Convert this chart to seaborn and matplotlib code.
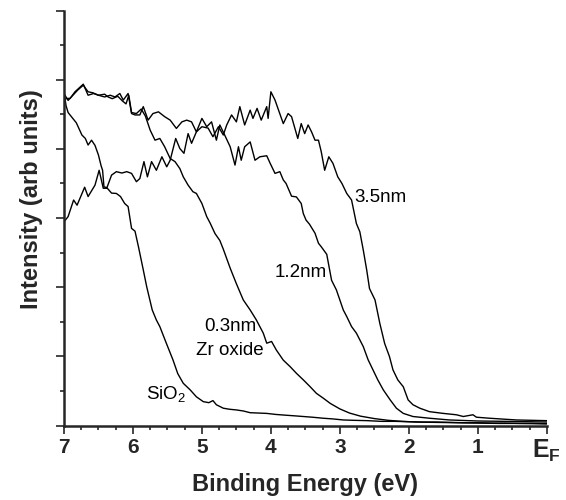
import matplotlib
matplotlib.use("Agg")
import matplotlib.pyplot as plt
import seaborn as sns
import pandas as pd
from matplotlib.ticker import MultipleLocator

# ---- data ----
sio2_x = [7.00, 6.97, 6.94, 6.88, 6.82, 6.74, 6.69, 6.65, 6.60, 6.55, 6.50, 6.46, 6.44, 6.42, 6.38,
          6.31, 6.24, 6.18, 6.12, 6.07, 6.02, 5.97, 5.92, 5.85, 5.80, 5.72, 5.66, 5.61, 5.52, 5.42,
          5.35, 5.27, 5.17, 5.08, 4.98, 4.90, 4.84, 4.79, 4.69, 4.60, 4.50, 4.40, 4.30, 4.18, 4.06,
          3.93, 3.80, 3.66, 3.53, 3.40, 3.24, 3.10, 2.95, 2.80, 2.60, 2.40, 2.20, 2.00, 1.80, 1.60,
          1.40, 1.20, 1.00, 0.80, 0.60, 0.40, 0.20, 0.00]
sio2_y = [9.65, 9.25, 9.05, 8.90, 8.75, 8.40, 8.30, 8.11, 8.25, 8.10, 7.82, 7.50, 7.38, 6.90, 6.88,
          6.72, 6.71, 6.62, 6.42, 6.33, 5.70, 5.62, 5.17, 4.50, 4.01, 3.34, 3.05, 2.86, 2.40, 1.90,
          1.50, 1.22, 1.03, 0.83, 0.69, 0.66, 0.72, 0.60, 0.50, 0.47, 0.45, 0.42, 0.37, 0.36, 0.35,
          0.32, 0.30, 0.28, 0.26, 0.24, 0.21, 0.19, 0.16, 0.15, 0.14, 0.12, 0.12, 0.11, 0.10, 0.10,
          0.09, 0.08, 0.08, 0.07, 0.07, 0.06, 0.06, 0.05]

zr03_x = [7.00, 6.94, 6.87, 6.80, 6.72, 6.65, 6.58, 6.50, 6.41, 6.36, 6.30, 6.22, 6.15, 6.10, 6.06,
          6.02, 5.95, 5.88, 5.82, 5.75, 5.68, 5.61, 5.54, 5.46, 5.39, 5.32, 5.27, 5.20, 5.13, 5.08,
          5.00, 4.93, 4.88, 4.81, 4.74, 4.69, 4.59, 4.50, 4.40, 4.30, 4.21, 4.11, 4.06, 3.99, 3.92,
          3.82, 3.72, 3.63, 3.53, 3.43, 3.34, 3.24, 3.14, 3.00, 2.86, 2.70, 2.50, 2.30, 2.10, 1.90,
          1.60, 1.30, 1.00, 0.70, 0.40, 0.00]
zr03_y = [9.60, 9.40, 9.55, 9.70, 9.84, 9.65, 9.62, 9.55, 9.58, 9.50, 9.45, 9.52, 9.38, 9.30, 9.55,
          9.05, 9.02, 9.15, 8.95, 8.54, 8.25, 8.30, 8.06, 7.72, 7.63, 7.43, 7.19, 6.95, 6.76, 6.71,
          6.42, 6.04, 5.85, 5.55, 5.35, 5.10, 4.55, 4.10, 3.63, 3.34, 3.05, 2.67, 2.38, 2.43, 2.18,
          1.89, 1.70, 1.51, 1.32, 1.12, 0.93, 0.79, 0.64, 0.48, 0.36, 0.27, 0.20, 0.15, 0.12, 0.10,
          0.09, 0.08, 0.07, 0.06, 0.06, 0.05]

zr12_x = [7.00, 6.91, 6.84, 6.72, 6.65, 6.57, 6.50, 6.41, 6.33, 6.26, 6.19, 6.14, 6.07, 6.02, 5.97,
          5.90, 5.85, 5.78, 5.71, 5.63, 5.54, 5.46, 5.37, 5.29, 5.22, 5.15, 5.08, 5.00, 4.93, 4.86,
          4.79, 4.74, 4.67, 4.59, 4.52, 4.47, 4.43, 4.38, 4.30, 4.23, 4.16, 4.06, 4.01, 3.94, 3.87,
          3.82, 3.78, 3.70, 3.63, 3.56, 3.53, 3.49, 3.44, 3.36, 3.31, 3.27, 3.19, 3.12, 3.05, 3.00,
          2.95, 2.90, 2.83, 2.76, 2.66, 2.59, 2.52, 2.45, 2.37, 2.27, 2.18, 2.08, 1.94, 1.70, 1.41,
          1.00, 0.60, 0.30, 0.00]
zr12_y = [9.45, 9.46, 9.65, 9.87, 9.55, 9.60, 9.55, 9.50, 9.55, 9.50, 9.60, 9.41, 9.60, 9.02, 8.98,
          8.98, 9.22, 8.83, 9.02, 9.07, 8.93, 8.83, 8.59, 8.78, 8.83, 8.78, 8.49, 8.88, 8.64, 8.78,
          8.25, 8.69, 8.40, 8.06, 7.53, 8.06, 7.67, 8.06, 8.20, 7.67, 7.77, 7.80, 7.58, 7.29, 7.34,
          7.10, 7.00, 6.63, 6.61, 6.42, 6.13, 5.94, 5.82, 5.56, 5.27, 5.17, 4.95, 4.20, 3.92, 3.63,
          3.34, 3.15, 2.86, 2.67, 2.28, 1.90, 1.61, 1.32, 1.03, 0.74, 0.50, 0.35, 0.26, 0.21, 0.16,
          0.13, 0.12, 0.11, 0.10]

zr35_x = [7.00, 6.94, 6.86, 6.81, 6.70, 6.65, 6.55, 6.49, 6.43, 6.38, 6.31, 6.24, 6.16, 6.09, 6.02,
          5.95, 5.90, 5.84, 5.79, 5.73, 5.66, 5.58, 5.51, 5.46, 5.38, 5.32, 5.26, 5.20, 5.15, 5.08,
          5.00, 4.91, 4.84, 4.76, 4.69, 4.64, 4.57, 4.50, 4.45, 4.38, 4.30, 4.26, 4.20, 4.14, 4.06,
          4.04, 4.00, 3.94, 3.82, 3.75, 3.70, 3.61, 3.56, 3.51, 3.46, 3.41, 3.36, 3.31, 3.27, 3.22,
          3.16, 3.10, 3.03, 2.97, 2.90, 2.83, 2.76, 2.71, 2.66, 2.61, 2.57, 2.49, 2.42, 2.35, 2.28,
          2.23, 2.16, 2.08, 2.01, 1.94, 1.84, 1.70, 1.50, 1.31, 1.21, 1.07, 1.02, 0.83, 0.44, 0.00]
zr35_y = [5.89, 6.04, 6.52, 6.37, 6.89, 6.62, 6.95, 7.38, 6.86, 6.86, 7.24, 7.34, 7.30, 7.34, 7.29,
          7.05, 7.14, 7.63, 7.19, 7.63, 7.38, 7.77, 7.48, 7.67, 8.30, 8.01, 7.87, 8.44, 8.16, 8.49,
          8.64, 8.60, 8.35, 8.64, 8.40, 8.69, 8.98, 8.78, 9.22, 8.69, 9.12, 8.88, 9.17, 8.83, 9.22,
          8.88, 9.65, 9.41, 8.73, 9.02, 8.93, 8.30, 8.73, 8.44, 8.69, 8.49, 8.25, 8.25, 7.92, 7.38,
          7.77, 7.58, 7.19, 7.00, 6.71, 6.52, 5.84, 5.60, 5.07, 4.49, 3.96, 3.63, 2.95, 2.37, 1.99,
          1.61, 1.32, 1.12, 0.74, 0.60, 0.50, 0.40, 0.35, 0.31, 0.26, 0.31, 0.24, 0.21, 0.16, 0.14]

x_ticks = [7, 6, 5, 4, 3, 2, 1, 0]
x_tick_labels = ["7", "6", "5", "4", "3", "2", "1", r"$\mathbf{E_F}$"]

curves = {"SiO2": (sio2_x, sio2_y), "0.3nm": (zr03_x, zr03_y),
          "1.2nm": (zr12_x, zr12_y), "3.5nm": (zr35_x, zr35_y)}
frames = []
for name, (xs, ys) in curves.items():
    frames.append(pd.DataFrame({"energy": xs, "intensity": ys, "film": name}))
df = pd.concat(frames, ignore_index=True)

# ---- style ----
sns.set_style("ticks")
plt.rcParams["font.family"] = ["Liberation Sans", "DejaVu Sans"]
plt.rcParams["mathtext.fontset"] = "custom"
plt.rcParams["mathtext.rm"] = "Liberation Sans"
plt.rcParams["mathtext.it"] = "Liberation Sans"
plt.rcParams["mathtext.bf"] = "Liberation Sans:bold"

fig = plt.figure(figsize=(5.66, 5.0), dpi=100)
ax = fig.add_axes([0.113, 0.149, 0.853, 0.830])

sns.lineplot(data=df, x="energy", y="intensity", hue="film", units="film",
             estimator=None, palette=["black"] * 4, legend=False,
             linewidth=1.0, ax=ax)

ax.set_xlim(7, 0)
ax.set_ylim(0, 12)
ax.set_xticks(x_ticks)
ax.set_xticklabels(x_tick_labels, fontweight="bold", fontsize=15)
ax.get_xticklabels()[-1].set_fontsize(18)
ax.xaxis.set_minor_locator(MultipleLocator(0.25))
ax.yaxis.set_major_locator(MultipleLocator(2))
ax.yaxis.set_minor_locator(MultipleLocator(1))
ax.set_yticklabels([])

ax.tick_params(axis="both", which="major", length=6, width=1.2, direction="out", pad=3)
ax.tick_params(axis="both", which="minor", length=3, width=1.2, direction="out")
for s in ["top", "right"]:
    ax.spines[s].set_visible(False)
for s in ["left", "bottom"]:
    ax.spines[s].set_linewidth(1.8)

ax.set_xlabel("Binding Energy (eV)", fontsize=17, fontweight="bold", labelpad=6)
ax.set_ylabel("Intensity (arb units)", fontsize=17, fontweight="bold")
ax.yaxis.set_label_coords(-0.043, 0.546)

lab = dict(fontsize=13.5, ha="center", va="center", color="black")
ax.text(2.41, 6.58, "3.5nm", **lab)
ax.text(3.57, 4.41, "1.2nm", **lab)
ax.text(4.59, 2.85, "0.3nm", **lab)
ax.text(4.59, 2.18, "Zr oxide", **lab)
ax.text(5.52, 0.90, r"SiO$_\mathregular{2}$", **lab)

fig.savefig("out.png", dpi=100)
